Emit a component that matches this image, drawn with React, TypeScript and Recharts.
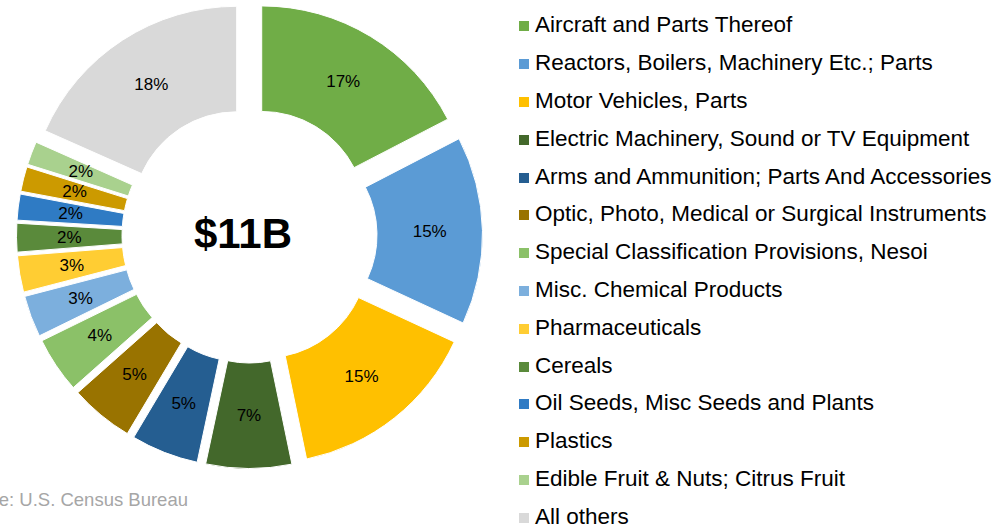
import { PieChart, Pie, Cell, Sector, Legend } from "recharts"

const categories = [
  "Aircraft and Parts Thereof",
  "Reactors, Boilers, Machinery Etc.; Parts",
  "Motor Vehicles, Parts",
  "Electric Machinery, Sound or TV Equipment",
  "Arms and Ammunition; Parts And Accessories",
  "Optic, Photo, Medical or Surgical Instruments",
  "Special Classification Provisions, Nesoi",
  "Misc. Chemical Products",
  "Pharmaceuticals",
  "Cereals",
  "Oil Seeds, Misc Seeds and Plants",
  "Plastics",
  "Edible Fruit & Nuts; Citrus Fruit",
  "All others",
]

// share of total exports, %
const shares = [17.4, 14.5, 14.85, 6.6, 5.2, 4.9, 4.3, 3.2, 2.8, 2.2, 2.0, 1.9, 1.8, 18.35]

const colors = [
  "#70AD47",
  "#5B9BD5",
  "#FFC000",
  "#43682B",
  "#255E91",
  "#997300",
  "#8BC168",
  "#7CAFDD",
  "#FFCD33",
  "#5A8A3B",
  "#2F7BC4",
  "#CC9A00",
  "#A9D18E",
  "#D9D9D9",
]

const total = "$11B"
const source = "Source: U.S. Census Bureau"

const data = categories.map((name, i) => ({ name, value: shares[i] }))

const RADIAN = Math.PI / 180
const EXPLODE = 23.5
const FONT = "'Liberation Sans', Arial, sans-serif"

// each slice is pushed out along its mid angle, like an exploded doughnut
function renderSlice(props: any) {
  const { cx, cy, midAngle, innerRadius, outerRadius, startAngle, endAngle, index } = props
  const dx = EXPLODE * Math.cos(-midAngle * RADIAN)
  const dy = EXPLODE * Math.sin(-midAngle * RADIAN)
  return (
    <Sector
      cx={cx + dx}
      cy={cy + dy}
      innerRadius={innerRadius}
      outerRadius={outerRadius}
      startAngle={startAngle}
      endAngle={endAngle}
      fill={colors[index]}
      stroke="#fff"
      strokeWidth={1}
    />
  )
}

function renderPct(props: any) {
  const { cx, cy, midAngle, innerRadius, outerRadius, index } = props
  const r = EXPLODE + (innerRadius + outerRadius) / 2
  const x = cx + r * Math.cos(-midAngle * RADIAN)
  const y = cy + r * Math.sin(-midAngle * RADIAN)
  return (
    <text x={x} y={y} textAnchor="middle" dominantBaseline="central" fill="#000" fontSize={17} fontFamily={FONT}>
      {`${Math.round(shares[index])}%`}
    </text>
  )
}

// legend rows follow the data order
function renderLegend() {
  return (
    <ul style={{ listStyle: "none", margin: 0, padding: 0 }}>
      {categories.map((name, i) => (
        <li key={name} style={{ height: 37.8, display: "flex", alignItems: "center" }}>
          <span
            style={{
              width: 10,
              height: 10,
              background: colors[i],
              marginRight: 6,
              display: "inline-block",
              flex: "none",
              transform: "translateY(1px)",
            }}
          />
          <span style={{ fontSize: 22.5, color: "#000", whiteSpace: "nowrap" }}>{name}</span>
        </li>
      ))}
    </ul>
  )
}

export default function App() {
  return (
    <div style={{ position: "fixed", left: 0, top: 0, width: 1000, height: 527, background: "#fff", fontFamily: FONT, overflow: "hidden" }}>
      <PieChart width={1000} height={527} margin={{ top: 0, right: 0, bottom: 0, left: 0 }}>
        <Pie
          data={data}
          dataKey="value"
          nameKey="name"
          cx={249.5}
          cy={235.5}
          innerRadius={104}
          outerRadius={209.5}
          startAngle={90}
          endAngle={-270}
          stroke="none"
          label={renderSlice}
          labelLine={false}
          isAnimationActive={false}
        >
          {data.map((_, i) => (
            <Cell key={i} fill={colors[i]} fillOpacity={0} />
          ))}
        </Pie>
        <Pie
          data={data}
          dataKey="value"
          nameKey="name"
          cx={249.5}
          cy={235.5}
          innerRadius={104}
          outerRadius={209.5}
          startAngle={90}
          endAngle={-270}
          fill="none"
          stroke="none"
          legendType="none"
          label={renderPct}
          labelLine={false}
          isAnimationActive={false}
        />
        <Legend
          layout="vertical"
          align="right"
          verticalAlign="top"
          content={renderLegend}
          wrapperStyle={{ position: "absolute", left: 519, right: "auto", top: 6.5, width: 481 }}
        />
      </PieChart>
      <div
        style={{
          position: "absolute",
          left: 143,
          top: 212.5,
          width: 200,
          textAlign: "center",
          fontSize: 42,
          lineHeight: "42px",
          fontWeight: "bold",
          color: "#000",
        }}
      >
        {total}
      </div>
      <div
        style={{
          position: "absolute",
          left: -312,
          top: 491.3,
          width: 500,
          textAlign: "right",
          fontSize: 18.5,
          lineHeight: "18.5px",
          color: "#A6A6A6",
          whiteSpace: "nowrap",
        }}
      >
        {source}
      </div>
    </div>
  )
}
